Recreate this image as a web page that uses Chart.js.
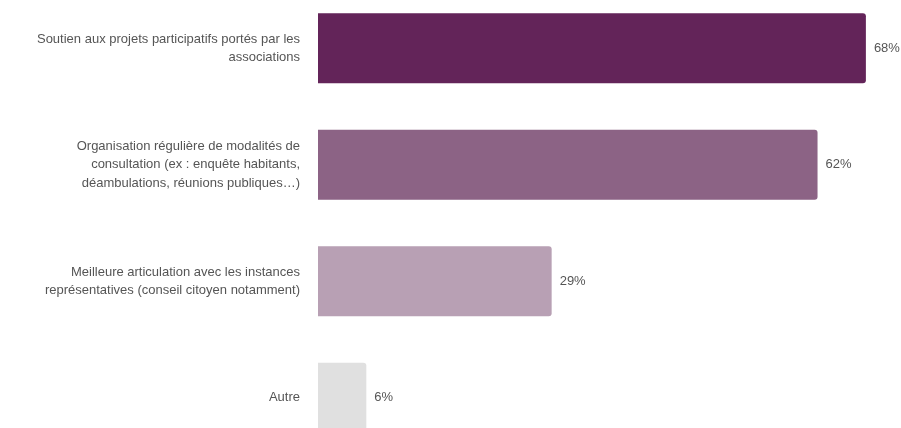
<!DOCTYPE html>
<html>
<head>
<meta charset="utf-8">
<script src="https://cdn.jsdelivr.net/npm/chart.js@4"></script>
<style>
  html, body { margin:0; padding:0; background:#fff; overflow:hidden; }
  #wrap { position:absolute; left:0; top:-10px; width:901px; height:466px; }
</style>
</head>
<body>
<div id="wrap"><canvas id="chart"></canvas></div>
<script>
// answer categories, one array per wrapped label
var labels = [
  ['Soutien aux projets participatifs portés par les', 'associations'],
  ['Organisation régulière de modalités de', 'consultation (ex : enquête habitants,', 'déambulations, réunions publiques…)'],
  ['Meilleure articulation avec les instances', 'représentatives (conseil citoyen notamment)'],
  ['Autre']
];
var values = [68, 62, 29, 6];
var colors = ['#632459', '#8c6385', '#b8a0b4', '#e0e0e0'];

var TEXT = '#555555';
var FONT = '"Liberation Sans", Arial, sans-serif';

// percent text at the end of each bar
var valueLabels = {
  id: 'valueLabels',
  afterDatasetsDraw: function(chart) {
    var ctx = chart.ctx;
    var meta = chart.getDatasetMeta(0);
    ctx.save();
    ctx.font = '13px ' + FONT;
    ctx.fillStyle = TEXT;
    ctx.textAlign = 'left';
    ctx.textBaseline = 'middle';
    meta.data.forEach(function(bar, i) {
      ctx.fillText(values[i] + '%', bar.x + 8, bar.y);
    });
    ctx.restore();
  }
};

new Chart(document.getElementById('chart'), {
  type: 'bar',
  data: {
    labels: labels,
    datasets: [{
      data: values,
      backgroundColor: colors,
      borderWidth: 0,
      borderRadius: { topRight: 3, bottomRight: 3, topLeft: 0, bottomLeft: 0 },
      borderSkipped: false,
      categoryPercentage: 1,
      barPercentage: 0.6
    }]
  },
  options: {
    indexAxis: 'y',
    responsive: true,
    maintainAspectRatio: false,
    animation: false,
    layout: { padding: { left: 0, right: 19, top: 0, bottom: 0 } },
    plugins: { legend: { display: false }, tooltip: { enabled: false } },
    scales: {
      x: { display: false, min: 0, max: 70 },
      y: {
        grid: { display: false, drawTicks: false },
        border: { display: false },
        ticks: {
          color: TEXT,
          padding: 18,
          font: { family: FONT, size: 13, lineHeight: 1.4 }
        },
        afterFit: function(scale) {
          // fixed label column, no extra room for the outer labels
          scale.width = 318;
          scale.paddingTop = 0;
          scale.paddingBottom = 0;
        }
      }
    }
  },
  plugins: [valueLabels]
});
</script>
</body>
</html>
